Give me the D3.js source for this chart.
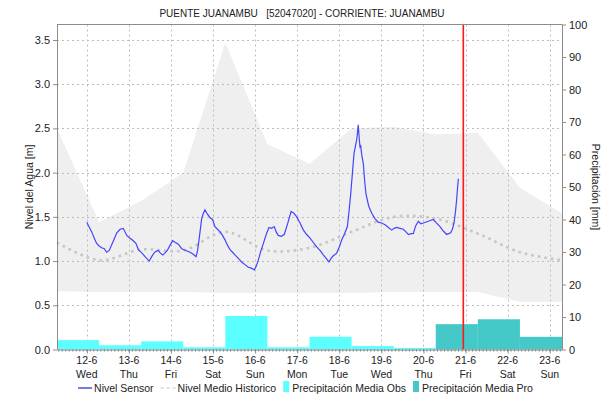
<!DOCTYPE html>
<html>
<head>
<meta charset="utf-8">
<script src="https://cdn.jsdelivr.net/npm/d3@7/dist/d3.min.js"></script>
<style>
  body { margin: 0; background: #fff; }
  text { font-family: "Liberation Sans", Arial, sans-serif; fill: #222; }
</style>
</head>
<body>
<div id="chart"></div>
<script>
// --- data ---
const title = "PUENTE JUANAMBU   [52047020] - CORRIENTE: JUANAMBU";
const dayLabels = ["12-6","13-6","14-6","15-6","16-6","17-6","18-6","19-6","20-6","21-6","22-6","23-6"];
const weekDays  = ["Wed","Thu","Fri","Sat","Sun","Mon","Tue","Wed","Thu","Fri","Sat","Sun"];
const levelTicks = [0, 0.5, 1, 1.5, 2, 2.5, 3, 3.5];
const precipTicks = [0, 10, 20, 30, 40, 50, 60, 70, 80, 90, 100];

// hours after 12-6 00:00 and water level [m]
const sensorHours = [0, 1.5, 2.8, 4.2, 5.6, 7.0, 8.5, 10.0, 11.3, 12.8, 15.0, 17.1, 19.0, 20.8, 22.8, 24.5, 26.5, 28.0, 29.4,
  31.5, 33.2, 35.6, 37.0, 38.3, 39.5, 40.8, 42.0, 43.3, 44.5, 45.9, 47.5, 49.0, 50.5, 52.2, 54.1, 56.5, 58.9, 60.5, 62.3,
  63.2, 64.2, 65.5, 66.5, 67.4, 68.8, 70.3, 71.7, 73.1, 74.5, 76.0, 77.4, 78.8, 80.2, 81.7, 83.1, 84.5, 86.4, 88.3,
  90.2, 92.1, 93.8, 95.5, 96.6, 97.8, 99.2, 100.7, 102.3, 103.9, 105.4, 106.9, 108.0, 109.2, 110.9, 112.6, 114.5,
  116.5, 118.1, 119.7, 121.6, 123.5, 125.4, 127.3, 129.2, 131.1, 133.0, 134.9, 136.5, 138.1, 139.3, 140.6, 142.5,
  144.0, 145.4, 147.0, 148.6, 149.5, 150.5, 151.5, 152.4, 153.2, 153.9, 154.4, 154.8, 155.3, 155.8, 156.2, 156.8,
  157.7, 158.4, 159.2, 160.8, 162.5, 164.3, 166.2, 168.1, 170.1, 172.0, 173.9, 175.3, 176.7, 178.6, 180.5, 182.0,
  183.4, 184.8, 186.2, 187.6, 189.1, 190.5, 191.9, 194.8, 197.6, 199.5, 201.4, 203.3, 205.2, 206.3, 207.5, 208.5,
  209.4, 210.2, 210.9, 211.4, 211.9];
const sensorLevel = [1.44, 1.38, 1.33, 1.26, 1.20, 1.17, 1.15, 1.14, 1.10, 1.12, 1.22, 1.32, 1.36, 1.37, 1.29, 1.26, 1.23, 1.20, 1.13,
  1.09, 1.05, 1.00, 1.05, 1.09, 1.11, 1.12, 1.09, 1.07, 1.09, 1.12, 1.18, 1.23, 1.21, 1.19, 1.14, 1.12, 1.10, 1.08, 1.05,
  1.12, 1.27, 1.48, 1.54, 1.58, 1.53, 1.49, 1.47, 1.39, 1.36, 1.33, 1.29, 1.24, 1.18, 1.13, 1.10, 1.07, 1.03, 0.99,
  0.96, 0.93, 0.92, 0.90, 0.94, 1.01, 1.11, 1.20, 1.30, 1.38, 1.37, 1.39, 1.33, 1.29, 1.28, 1.30, 1.42,
  1.56, 1.54, 1.50, 1.43, 1.35, 1.30, 1.26, 1.21, 1.16, 1.12, 1.07, 1.03, 0.99, 1.03, 1.06, 1.09,
  1.16, 1.24, 1.31, 1.39, 1.55, 1.76, 2.00, 2.22, 2.30, 2.37, 2.46, 2.54, 2.40, 2.29, 2.30, 2.20,
  2.10, 1.92, 1.76, 1.62, 1.54, 1.48, 1.44, 1.43, 1.41, 1.38, 1.35, 1.37, 1.38, 1.37, 1.36, 1.33,
  1.30, 1.31, 1.31, 1.40, 1.45, 1.42, 1.43, 1.45, 1.47, 1.43, 1.39, 1.34, 1.30, 1.31, 1.32, 1.36,
  1.43, 1.55, 1.69, 1.82, 1.93];

// historical band, one value per day at 07:00 from 11-6 to 23-6
const histUpper  = [2.50, 1.44, 1.68, 2.00, 3.47, 2.32, 2.10, 2.50, 2.52, 2.43, 2.45, 1.83, 1.54];
const histMedian = [1.21, 1.01, 1.13, 1.12, 1.33, 1.12, 1.15, 1.33, 1.50, 1.48, 1.31, 1.10, 1.01];
const histLower  = [0.66, 0.65, 0.65, 0.65, 0.64, 0.64, 0.64, 0.64, 0.65, 0.65, 0.65, 0.54, 0.54];

// daily precipitation [mm], days starting 07:00
const precipObs = [2.9, 1.3, 2.5, 0.7, 10.3, 0.7, 3.9, 1.1, 0.5];
const precipPro = [7.8, 9.3, 3.9];

const start = new Date(2024, 5, 11, 7);
const end = new Date(2024, 5, 23, 7);
const now = new Date(2024, 5, 20, 22, 40);
const sensorStart = new Date(2024, 5, 12, 0);

const width = 607, height = 404;
const plotLeft = 57, plotRight = 562, plotTop = 24.5, plotBottom = 349.5;

const svg = d3.select("#chart").append("svg").attr("width", width).attr("height", height);

const x = d3.scaleTime().domain([start, end]).range([plotLeft, plotRight]);
const yL = d3.scaleLinear().domain([0, 3.675]).range([plotBottom, plotTop]);
const yR = d3.scaleLinear().domain([0, 100]).range([plotBottom, plotTop]);

const histDates = histUpper.map((d, i) => d3.timeDay.offset(start, i));
const dayTicks = dayLabels.map((d, i) => new Date(2024, 5, 12 + i));

// band
svg.append("path")
  .datum(histDates.map((d, i) => [d, histLower[i], histUpper[i]]))
  .attr("fill", "#efefef")
  .attr("d", d3.area().x(d => x(d[0])).y0(d => yL(d[1])).y1(d => yL(d[2])));

// grid
const grid = svg.append("g").attr("stroke", "#bdbdbd").attr("stroke-dasharray", "2,3").attr("stroke-width", 1);
levelTicks.filter(v => v > 0).forEach(v => {
  grid.append("line").attr("x1", plotLeft).attr("x2", plotRight).attr("y1", Math.round(yL(v)) + 0.5).attr("y2", Math.round(yL(v)) + 0.5);
});
dayTicks.forEach(d => {
  grid.append("line").attr("x1", Math.round(x(d)) + 0.5).attr("x2", Math.round(x(d)) + 0.5).attr("y1", plotTop).attr("y2", plotBottom);
});

// precipitation bars
precipObs.forEach((v, i) => {
  const d0 = d3.timeDay.offset(start, i), d1 = d3.timeDay.offset(start, i + 1);
  svg.append("rect").attr("x", x(d0)).attr("width", x(d1) - x(d0))
    .attr("y", yR(v)).attr("height", plotBottom - yR(v)).attr("fill", "#5cffff");
});
precipPro.forEach((v, i) => {
  const k = precipObs.length + i;
  const d0 = d3.timeDay.offset(start, k), d1 = d3.timeDay.offset(start, k + 1);
  svg.append("rect").attr("x", x(d0)).attr("width", x(d1) - x(d0))
    .attr("y", yR(v)).attr("height", plotBottom - yR(v)).attr("fill", "#44c8c8");
});

// median
svg.append("path")
  .datum(histDates.map((d, i) => [d, histMedian[i]]))
  .attr("fill", "none").attr("stroke", "#c6c6c6").attr("stroke-width", 2.6)
  .attr("stroke-dasharray", "2.6,4")
  .attr("d", d3.line().x(d => x(d[0])).y(d => yL(d[1])).curve(d3.curveCatmullRom));

// sensor
svg.append("path")
  .datum(sensorHours.map((h, i) => [d3.timeMinute.offset(sensorStart, Math.round(h * 60)), sensorLevel[i]]))
  .attr("fill", "none").attr("stroke", "#4444ff").attr("stroke-width", 1.2)
  .attr("d", d3.line().x(d => x(d[0])).y(d => yL(d[1])));

// now line
svg.append("rect").attr("x", Math.round(x(now)) - 0.5).attr("width", 1.6)
  .attr("y", plotTop).attr("height", plotBottom - plotTop).attr("fill", "#ff1a1a");

// frame
svg.append("line").attr("x1", plotLeft).attr("x2", plotRight).attr("y1", plotTop).attr("y2", plotTop).attr("stroke", "#8c8c8c");

// axes
const axL = svg.append("g").attr("transform", `translate(${plotLeft},0)`)
  .call(d3.axisLeft(yL).tickValues(levelTicks).tickFormat(d3.format(".1f")).tickSize(4).tickPadding(3));
const axR = svg.append("g").attr("transform", `translate(${plotRight},0)`)
  .call(d3.axisRight(yR).tickValues(precipTicks).tickSize(4).tickPadding(3));
const axB = svg.append("g").attr("transform", `translate(0,${plotBottom})`)
  .call(d3.axisBottom(x).tickValues(dayTicks).tickFormat("").tickSize(4).tickSizeOuter(0));
[axL, axR, axB].forEach(a => {
  a.select(".domain").attr("stroke", "#8c8c8c");
  a.selectAll(".tick line").attr("stroke", "#8c8c8c");
  a.selectAll("text").attr("font-size", 11).attr("fill", "#333").style("font-family", '"Liberation Sans", Arial, sans-serif');
});
axL.select(".domain").attr("d", `M0.5,${plotTop}V${plotBottom}`);
axR.select(".domain").attr("d", `M0.5,${plotTop}V${plotBottom}`);

// minor ticks on the time axis
svg.append("g").selectAll("line")
  .data(d3.timeHour.every(2).range(start, end))
  .join("line")
  .attr("x1", d => x(d)).attr("x2", d => x(d)).attr("y1", plotBottom).attr("y2", plotBottom + 2)
  .attr("stroke", "#666").attr("stroke-width", 0.8);

// two line day labels
dayTicks.forEach((d, i) => {
  const t = svg.append("text").attr("x", x(d)).attr("text-anchor", "middle").attr("font-size", 10.5).attr("fill", "#222");
  t.append("tspan").attr("x", x(d)).attr("y", 364).text(dayLabels[i]);
  t.append("tspan").attr("x", x(d)).attr("y", 378).text(weekDays[i]);
});

// titles
svg.append("text").attr("x", 302).attr("y", 17).attr("text-anchor", "middle")
  .attr("font-size", 10).style("white-space", "pre").text(title);
svg.append("text").attr("transform", `translate(33,${(plotTop + plotBottom) / 2}) rotate(-90)`)
  .attr("text-anchor", "middle").attr("font-size", 10.5).text("Nivel del Agua [m]");
svg.append("text").attr("transform", `translate(592,${(plotTop + plotBottom) / 2}) rotate(90)`)
  .attr("text-anchor", "middle").attr("font-size", 10.5).text("Precipitación [mm]");

// legend
const legend = [
  { name: "Nivel Sensor", type: "line" },
  { name: "Nivel Medio Historico", type: "dots" },
  { name: "Precipitación Media Obs", type: "box", color: "#5cffff" },
  { name: "Precipitación Media Pro", type: "box", color: "#44c8c8" }
];
const lg = svg.append("g");
let lx = 0;
legend.forEach(item => {
  const g = lg.append("g").attr("transform", `translate(${lx},0)`);
  let sw;
  if (item.type === "line") {
    g.append("line").attr("x1", 0).attr("x2", 14).attr("y1", -4).attr("y2", -4).attr("stroke", "#2020c0").attr("stroke-width", 1.2);
    sw = 16;
  } else if (item.type === "dots") {
    g.append("line").attr("x1", 0).attr("x2", 15).attr("y1", -4).attr("y2", -4).attr("stroke", "#c4c4c4").attr("stroke-width", 1.2).attr("stroke-dasharray", "3,3");
    sw = 17;
  } else {
    g.append("rect").attr("x", 0).attr("y", -11).attr("width", 6).attr("height", 11).attr("fill", item.color);
    sw = 9;
  }
  const t = g.append("text").attr("x", sw).attr("y", 0).attr("font-size", 10.5).text(item.name);
  lx += sw + t.node().getComputedTextLength() + 7;
});
lg.attr("transform", `translate(${(width - (lx - 7)) / 2 + 2},392)`);
</script>
</body>
</html>
